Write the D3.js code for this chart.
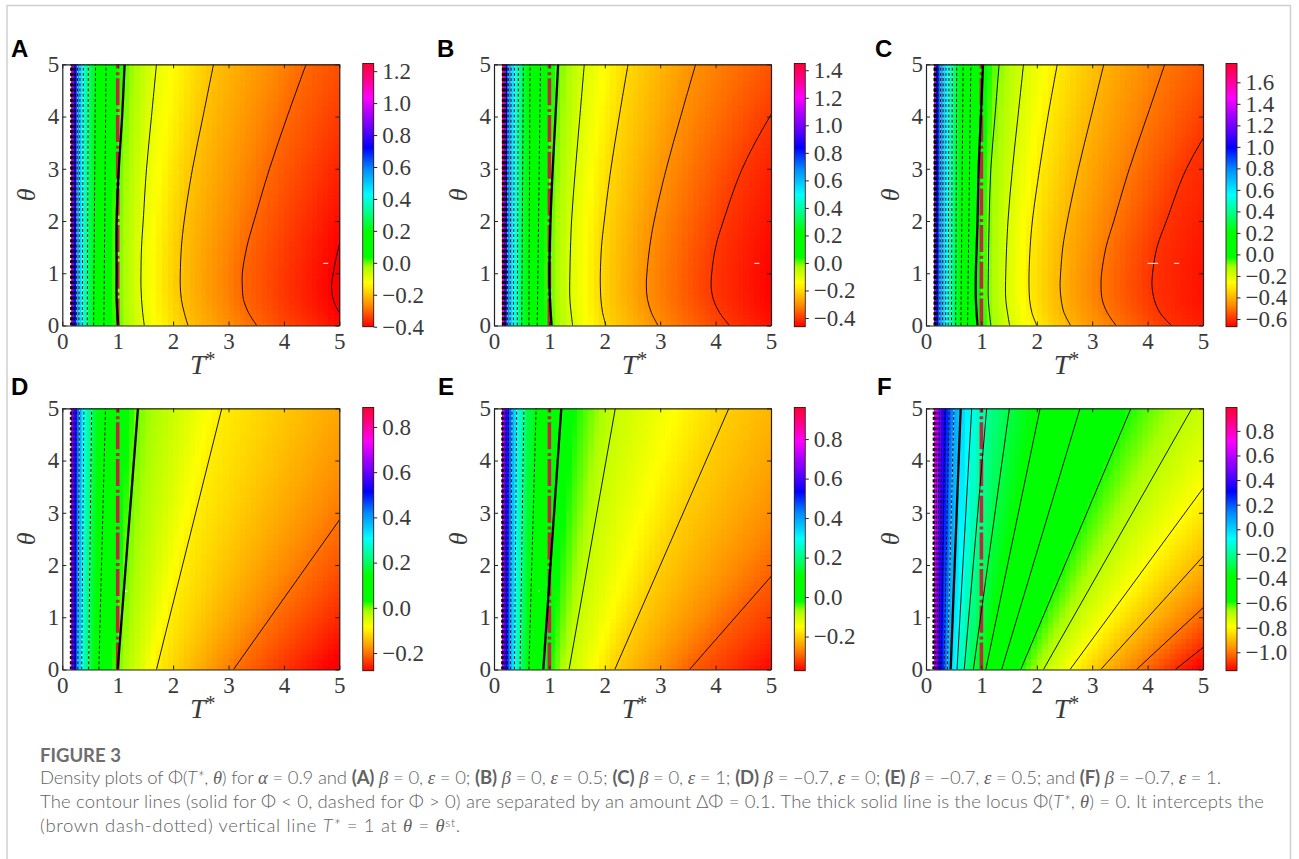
<!DOCTYPE html>
<html>
  <head>
    <meta charset="utf-8">
    <script src="https://d3js.org/d3.v7.min.js"></script>
    <title>Figure 3</title>
    <style>
      body { margin: 0px; background: #fff; }
      .tick text, .axlabel { font-family: "Liberation Serif", serif; fill: #3a3a3a; }
      .cap { font-family: Lato, "Open Sans", sans-serif; fill: #626262; font-weight: 300; font-size: 18.5px; }
      .cap .g { font-family: "Liberation Serif", serif; font-style: italic; }
      .cap .b { font-weight: 700; }
      .cap .i { font-style: italic; }
    </style>
  </head>
  <body>
    <svg width="1299" height="859"></svg>
    <script>
      // theta rows the contours were read on
      const thLine = [0, 5];
      const thSeven = [0, 0.5, 1, 2, 3, 4, 5];
      const thCurve = [0, 0.25, 0.5, 0.75, 1, 1.5, 2, 3, 4, 5];

      // [level, theta rows, T* where the contour crosses them]
      const contoursA = [
        [1.25, thLine, [0.15, 0.15]], [1.2, thLine, [0.155, 0.16]], [1.1, thLine, [0.165, 0.17]],
        [1.0, thLine, [0.175, 0.18]], [0.9, thLine, [0.19, 0.195]], [0.8, thLine, [0.205, 0.215]],
        [0.7, thLine, [0.225, 0.24]], [0.6, thLine, [0.255, 0.275]], [0.5, thLine, [0.30, 0.32]],
        [0.4, thLine, [0.36, 0.38]], [0.3, thLine, [0.45, 0.47]], [0.2, thLine, [0.565, 0.60]],
        [0.1, thLine, [0.75, 0.79]],
        [0, thSeven, [1.01, 0.98, 0.98, 0.98, 1.02, 1.08, 1.125]],
        [-0.1, thCurve, [1.48, 1.45, 1.43, 1.42, 1.42, 1.43, 1.46, 1.52, 1.61, 1.70]],
        [-0.2, thCurve, [2.27, 2.2, 2.15, 2.13, 2.13, 2.15, 2.2, 2.35, 2.54, 2.73]],
        [-0.3, thCurve, [3.51, 3.36, 3.27, 3.25, 3.25, 3.33, 3.46, 3.74, 4.06, 4.40]],
        [-0.4, thCurve, [5.2, 5.0, 4.89, 4.86, 4.89, 4.99, 5.15, 5.6, 6.2, 7]],
        [-0.5, thCurve, [8, 7.6, 7.2, 7, 7.2, 7.6, 8, 8.6, 9.2, 10]]
      ];
      const contoursB = [
        [1.45, thLine, [0.15, 0.15]], [1.4, thLine, [0.155, 0.16]], [1.3, thLine, [0.16, 0.17]],
        [1.2, thLine, [0.17, 0.18]], [1.1, thLine, [0.18, 0.19]], [1.0, thLine, [0.19, 0.205]],
        [0.9, thLine, [0.20, 0.22]], [0.8, thLine, [0.215, 0.235]], [0.7, thLine, [0.24, 0.26]],
        [0.6, thLine, [0.29, 0.31]], [0.5, thLine, [0.35, 0.37]], [0.4, thLine, [0.42, 0.44]],
        [0.3, thLine, [0.50, 0.53]], [0.2, thLine, [0.63, 0.65]],
        [0.1, thLine, [0.78, 0.84]],
        [0, thSeven, [1.04, 1.01, 1.0, 1.02, 1.06, 1.11, 1.157]],
        [-0.1, thSeven, [1.42, 1.37, 1.37, 1.40, 1.47, 1.55, 1.63]],
        [-0.2, thCurve, [2.02, 1.96, 1.93, 1.92, 1.92, 1.94, 1.99, 2.11, 2.26, 2.42]],
        [-0.3, thCurve, [2.96, 2.84, 2.77, 2.75, 2.76, 2.81, 2.89, 3.11, 3.37, 3.64]],
        [-0.4, thCurve, [4.25, 4.07, 3.96, 3.92, 3.93, 4.0, 4.14, 4.48, 4.98, 5.6]],
        [-0.5, thCurve, [6.0, 5.8, 5.7, 5.7, 5.7, 5.8, 6.0, 6.4, 7, 8]]
      ];
      const contoursC = [
        [1.78, thLine, [0.145, 0.145]], [1.7, thLine, [0.15, 0.15]], [1.6, thLine, [0.153, 0.155]],
        [1.5, thLine, [0.157, 0.16]], [1.4, thLine, [0.161, 0.165]], [1.3, thLine, [0.165, 0.17]],
        [1.2, thLine, [0.17, 0.175]], [1.1, thLine, [0.175, 0.18]], [1.0, thLine, [0.18, 0.19]],
        [0.9, thLine, [0.21, 0.22]], [0.8, thLine, [0.25, 0.265]], [0.7, thLine, [0.30, 0.31]],
        [0.6, thLine, [0.355, 0.36]], [0.5, thLine, [0.40, 0.415]], [0.4, thLine, [0.46, 0.475]],
        [0.3, thLine, [0.535, 0.555]], [0.2, thLine, [0.63, 0.67]],
        [0.1, thLine, [0.75, 0.81]],
        [0, thSeven, [0.93, 0.90, 0.90, 0.93, 0.95, 0.99, 1.03]],
        [-0.1, thSeven, [1.17, 1.125, 1.125, 1.14, 1.17, 1.245, 1.32]],
        [-0.2, thSeven, [1.51, 1.44, 1.44, 1.48, 1.56, 1.66, 1.76]],
        [-0.3, thCurve, [2.0, 1.91, 1.87, 1.86, 1.86, 1.88, 1.92, 2.05, 2.2, 2.37]],
        [-0.4, thCurve, [2.61, 2.49, 2.44, 2.42, 2.43, 2.47, 2.55, 2.75, 2.98, 3.21]],
        [-0.5, thCurve, [3.43, 3.27, 3.18, 3.16, 3.17, 3.25, 3.39, 3.67, 3.99, 4.31]],
        [-0.6, thCurve, [4.43, 4.22, 4.12, 4.08, 4.09, 4.17, 4.34, 4.70, 5.25, 5.9]],
        [-0.7, thCurve, [6.3, 6.1, 6.0, 6.0, 6.0, 6.1, 6.3, 7, 8, 9]]
      ];
      const contoursD = [
        [0.89, thLine, [0.145, 0.145]], [0.8, thLine, [0.15, 0.155]], [0.7, thLine, [0.16, 0.165]],
        [0.6, thLine, [0.19, 0.20]], [0.5, thLine, [0.23, 0.25]], [0.4, thLine, [0.28, 0.31]],
        [0.3, thLine, [0.35, 0.39]], [0.2, thLine, [0.475, 0.53]],
        [0.1, thLine, [0.66, 0.78]],
        [0, thLine, [1.0, 1.366]],
        [-0.1, thLine, [1.70, 2.88]],
        [-0.2, thLine, [3.09, 6.43]],
        [-0.3, thLine, [5.2, 10]]
      ];
      const contoursE = [
        [0.96, thLine, [0.14, 0.14]], [0.9, thLine, [0.145, 0.15]], [0.8, thLine, [0.15, 0.155]],
        [0.7, thLine, [0.17, 0.175]], [0.6, thLine, [0.20, 0.21]], [0.5, thLine, [0.24, 0.26]],
        [0.4, thLine, [0.295, 0.325]], [0.3, thLine, [0.37, 0.41]], [0.2, thLine, [0.47, 0.54]],
        [0.1, thLine, [0.63, 0.76]],
        [0, thLine, [0.89, 1.215]],
        [-0.1, thLine, [1.355, 2.19]],
        [-0.2, thLine, [2.18, 4.24]],
        [-0.3, thLine, [3.53, 7.66]],
        [-0.4, thLine, [5.6, 12]]
      ];
      const contoursF = [
        [0.99, thLine, [0.125, 0.13]], [0.9, thLine, [0.13, 0.14]], [0.8, thLine, [0.135, 0.15]],
        [0.7, thLine, [0.145, 0.17]], [0.6, thLine, [0.17, 0.20]], [0.5, thLine, [0.20, 0.24]],
        [0.4, thLine, [0.23, 0.29]], [0.3, thLine, [0.27, 0.35]], [0.2, thLine, [0.325, 0.42]],
        [0.1, thLine, [0.385, 0.505]],
        [0, thLine, [0.445, 0.626]],
        [-0.1, thLine, [0.56, 0.825]],
        [-0.2, thLine, [0.69, 1.096]],
        [-0.3, thLine, [0.855, 1.506]],
        [-0.4, thLine, [1.08, 2.06]],
        [-0.5, thLine, [1.366, 2.78]],
        [-0.6, thLine, [1.71, 3.70]],
        [-0.7, thLine, [2.12, 4.80]],
        [-0.8, thLine, [2.6, 6.06]],
        [-0.9, thLine, [3.155, 7.42]],
        [-1.0, thLine, [3.8, 8.88]],
        [-1.1, thLine, [4.5, 10.45]],
        [-1.2, thLine, [5.3, 12.5]]
      ];

      // colour bar value range and ticks
      const panelLetters = ['A', 'B', 'C', 'D', 'E', 'F'];
      const rangeValues = [[-0.4, 1.248], [-0.463, 1.449], [-0.672, 1.775], [-0.278, 0.886], [-0.373, 0.96], [-1.15, 0.99]];
      const barTicks = [
        [-0.4, -0.2, 0, 0.2, 0.4, 0.6, 0.8, 1.0, 1.2],
        [-0.4, -0.2, 0, 0.2, 0.4, 0.6, 0.8, 1.0, 1.2, 1.4],
        [-0.6, -0.4, -0.2, 0, 0.2, 0.4, 0.6, 0.8, 1.0, 1.2, 1.4, 1.6],
        [-0.2, 0, 0.2, 0.4, 0.6, 0.8],
        [-0.2, 0, 0.2, 0.4, 0.6, 0.8],
        [-1.0, -0.8, -0.6, -0.4, -0.2, 0, 0.2, 0.4, 0.6, 0.8]
      ];
      const allContours = [contoursA, contoursB, contoursC, contoursD, contoursE, contoursF];
      // small white marks in the density, [T from, T to, theta]
      const specks = [
        [[4.71, 4.80, 1.19]],
        [[4.70, 4.79, 1.19]],
        [[4.0, 4.19, 1.19], [4.48, 4.57, 1.19]],
        [[1.13, 1.18, 1.5]],
        [[0.80, 0.83, 1.5]],
        []
      ];
      const axisTicks = [0, 1, 2, 3, 4, 5];

      const colorStops = [0, 0.08, 0.165, 0.225, 0.25, 0.262, 0.36, 0.43, 0.5, 0.6, 0.68, 0.78, 0.87, 0.94, 1];
      const colorValues = ['#ff0000', '#ff8800', '#ffff00', '#a8ff00', '#40ff00', '#00ff00', '#00ff00', '#00ff80', '#00ffff',
        '#0088ff', '#0000ff', '#8800ff', '#ff00ff', '#ff0088', '#ff0033'];
      const palette = d3.scaleLinear().domain(colorStops).range(colorValues).clamp(true);

      const svg = d3.select('svg');

      // page border
      svg.append('path')
        .attr('d', 'M7,859V5.5H1290.5V859')
        .attr('fill', 'none').attr('stroke', '#cfcfcf').attr('stroke-width', 1.5);

      const plotLeft = [62.3, 494, 926];
      const barLeft = [362.7, 794.3, 1226];
      const plotTop = [64.3, 408.3];
      const plotHeight = 261.2;
      const plotWidth = 277;
      const letterX = [11, 437, 875, 11, 438, 877];
      const letterY = [56.5, 395];

      const defs = svg.append('defs');

      // cell edges: narrow columns where the field changes fast
      const colEdges = d3.range(0.15, 0.6, 0.03).concat(d3.range(0.6, 5.05, 0.1));
      const rowEdges = d3.range(0, 5.05, 0.1);

      allContours.forEach((contours, p) => {
        const col = p % 3, row = Math.floor(p / 3);
        const left = plotLeft[col], top = plotTop[row];
        const g = svg.append('g').attr('transform', `translate(${left}, ${top})`);

        const xScale = d3.scaleLinear().domain([0, 5]).range([0, plotWidth]);
        const yScale = d3.scaleLinear().domain([0, 5]).range([plotHeight, 0]);
        const tScale = d3.scaleLinear().domain(rangeValues[p]).range([0, 1]);
        const valueColor = v => palette(tScale(v));

        const levels = contours.map(c => c[0]);
        const crossing = contours.map(c => d3.scaleLinear().domain(c[1]).range(c[2]));
        const valueAt = (T, th) => d3.scaleLinear()
          .domain(crossing.map(s => s(th))).range(levels).clamp(true)(T);

        // density cells
        const cells = [];
        colEdges.slice(0, -1).forEach((T0, i) => {
          const T1 = colEdges[i + 1];
          rowEdges.slice(0, -1).forEach((th0, j) => {
            cells.push({ T0, T1, th0, th1: rowEdges[j + 1] });
          });
        });
        g.append('g').attr('shape-rendering', 'crispEdges')
          .selectAll('rect').data(cells).enter().append('rect')
            .attr('x', d => xScale(d.T0))
            .attr('y', d => yScale(d.th1))
            .attr('width', d => xScale(d.T1) - xScale(d.T0) + 0.4)
            .attr('height', d => yScale(d.th0) - yScale(d.th1) + 0.4)
            .attr('fill', d => valueColor(valueAt((d.T0 + d.T1) / 2, (d.th0 + d.th1) / 2)));

        // T* = 1 line, under the contours
        g.append('line')
          .attr('x1', xScale(1)).attr('x2', xScale(1))
          .attr('y1', yScale(0)).attr('y2', yScale(5))
          .attr('stroke', '#bd283e').attr('stroke-width', 3.6)
          .attr('stroke-dasharray', '27,3,3,3.7');

        // contours
        const clipId = 'clip' + p;
        defs.append('clipPath').attr('id', clipId).append('rect')
          .attr('width', plotWidth).attr('height', plotHeight);
        const line = d3.line()
          .x(d => xScale(d[0]))
          .y(d => yScale(d[1]))
          .curve(d3.curveCatmullRom.alpha(0.5));
        const pathOf = c => line(c[2].map((T, i) => [T, c[1][i]]));
        const lines = g.append('g').attr('clip-path', `url(#${clipId})`);
        // pale gaps between the dashes in the cyan part of the field
        lines.selectAll('path.under')
          .data(contours.filter(c => c[0] > 0 && tScale(c[0]) > 0.4 && tScale(c[0]) < 0.62))
          .enter().append('path')
            .attr('class', 'under')
            .attr('d', pathOf)
            .attr('fill', 'none').attr('stroke', '#fff').attr('stroke-opacity', 0.55).attr('stroke-width', 0.9);
        lines.selectAll('path.level').data(contours).enter().append('path')
            .attr('class', 'level')
            .attr('d', pathOf)
            .attr('fill', 'none')
            .attr('stroke', '#000')
            .attr('stroke-width', c => c[0] === 0 ? 2.3 : 0.9)
            .attr('stroke-dasharray', c => c[0] > 0 ? '3,2.2' : null);

        g.append('g').selectAll('line').data(specks[p]).enter().append('line')
          .attr('x1', d => xScale(d[0])).attr('x2', d => xScale(d[1]))
          .attr('y1', d => yScale(d[2])).attr('y2', d => yScale(d[2]))
          .attr('stroke', '#fff').attr('stroke-width', 1);

        // axes with inner ticks on all four sides
        const bottom = g.append('g').attr('transform', `translate(0, ${plotHeight})`)
          .call(d3.axisBottom(xScale).tickValues(axisTicks).tickFormat(d3.format('d')).tickSizeInner(-4).tickSizeOuter(0).tickPadding(7));
        const leftAxis = g.append('g')
          .call(d3.axisLeft(yScale).tickValues(axisTicks).tickFormat(d3.format('d')).tickSizeInner(-4).tickSizeOuter(0).tickPadding(3));
        g.append('g')
          .call(d3.axisTop(xScale).tickValues(axisTicks).tickFormat('').tickSizeInner(-4).tickSizeOuter(0));
        g.append('g').attr('transform', `translate(${plotWidth}, 0)`)
          .call(d3.axisRight(yScale).tickValues(axisTicks).tickFormat('').tickSizeInner(-4).tickSizeOuter(0));
        bottom.selectAll('text').style('font-size', '23px');
        leftAxis.selectAll('text').style('font-size', '23px');
        g.selectAll('.domain').attr('stroke', '#222').attr('stroke-width', 1.2);
        g.selectAll('.tick line').attr('stroke', '#222').attr('stroke-width', 1);

        // axis titles
        const xTitle = g.append('text').attr('class', 'axlabel')
          .attr('x', plotWidth / 2 + 2).attr('y', plotHeight + 49)
          .attr('text-anchor', 'middle').style('font-size', '28px');
        xTitle.append('tspan').attr('font-style', 'italic').text('T');
        xTitle.append('tspan').attr('dy', -8).style('font-size', '20px').text('*');
        g.append('text').attr('class', 'axlabel')
          .attr('transform', `translate(-27, ${plotHeight / 2}) rotate(-90)`)
          .attr('text-anchor', 'middle').attr('font-style', 'italic')
          .style('font-size', '26px').text('θ');

        // colour bar
        const barTop = top - 0.8, barH = plotHeight + 2;
        const bar = svg.append('g').attr('transform', `translate(${barLeft[col]}, ${barTop})`);
        const barY = d3.scaleLinear().domain(rangeValues[p]).range([barH, 0]);
        const strips = d3.range(0, 1, 1 / 260);
        bar.append('g').attr('shape-rendering', 'crispEdges')
          .selectAll('rect').data(strips).enter().append('rect')
            .attr('x', 0).attr('width', 11)
            .attr('y', d => barH * (1 - d) - barH / 260 - 0.3)
            .attr('height', barH / 260 + 0.6)
            .attr('fill', d => palette(d));
        bar.append('rect').attr('width', 11).attr('height', barH)
          .attr('fill', 'none').attr('stroke', '#3a1a1a').attr('stroke-width', 0.9);
        const barAxis = bar.append('g').attr('transform', 'translate(11, 0)')
          .call(d3.axisRight(barY).tickValues(barTicks[p])
            .tickFormat(d => d3.format('.1f')(d).replace('-', '\u2212'))
            .tickSize(3.5).tickSizeOuter(0).tickPadding(5));
        barAxis.select('.domain').remove();
        barAxis.selectAll('line').attr('stroke', '#222');
        barAxis.selectAll('text').style('font-size', '23px');

        // panel letter
        svg.append('text')
          .attr('x', letterX[p]).attr('y', letterY[row])
          .attr('font-family', '"Liberation Sans", sans-serif')
          .attr('font-weight', 700).attr('font-size', 24)
          .text(panelLetters[p]);
      });

      // caption
      const capTitle = 'FIGURE 3';
      const capLines = [
        'Density plots of Φ(<tspan class="i">T*</tspan>, <tspan class="g">θ</tspan>) for <tspan class="g">α</tspan> = 0.9 and <tspan class="b">(A)</tspan> <tspan class="g">β</tspan> = 0, <tspan class="g">ε</tspan> = 0; <tspan class="b">(B)</tspan> <tspan class="g">β</tspan> = 0, <tspan class="g">ε</tspan> = 0.5; <tspan class="b">(C)</tspan> <tspan class="g">β</tspan> = 0, <tspan class="g">ε</tspan> = 1; <tspan class="b">(D)</tspan> <tspan class="g">β</tspan> = −0.7, <tspan class="g">ε</tspan> = 0; <tspan class="b">(E)</tspan> <tspan class="g">β</tspan> = −0.7, <tspan class="g">ε</tspan> = 0.5; and <tspan class="b">(F)</tspan> <tspan class="g">β</tspan> = −0.7, <tspan class="g">ε</tspan> = 1.',
        'The contour lines (solid for Φ &lt; 0, dashed for Φ &gt; 0) are separated by an amount ΔΦ = 0.1. The thick solid line is the locus Φ(<tspan class="i">T*</tspan>, <tspan class="g">θ</tspan>) = 0. It intercepts the',
        '(brown dash-dotted) vertical line <tspan class="i">T*</tspan> = 1 at <tspan class="g">θ</tspan> = <tspan class="g">θ</tspan><tspan dy="-5" font-size="12">st</tspan><tspan dy="5">.</tspan>'
      ];
      const capWidths = [1181, 1224, 420];
      svg.append('text').attr('class', 'cap').attr('x', 40).attr('y', 762)
        .style('font-weight', 700).style('fill', '#6e6e6e').text(capTitle);
      svg.selectAll('text.capline').data(capLines).enter().append('text')
        .attr('class', 'cap capline')
        .attr('x', 40).attr('y', (d, i) => 784 + i * 24)
        .attr('textLength', (d, i) => capWidths[i])
        .html(d => d);
    </script>
  </body>
</html>
